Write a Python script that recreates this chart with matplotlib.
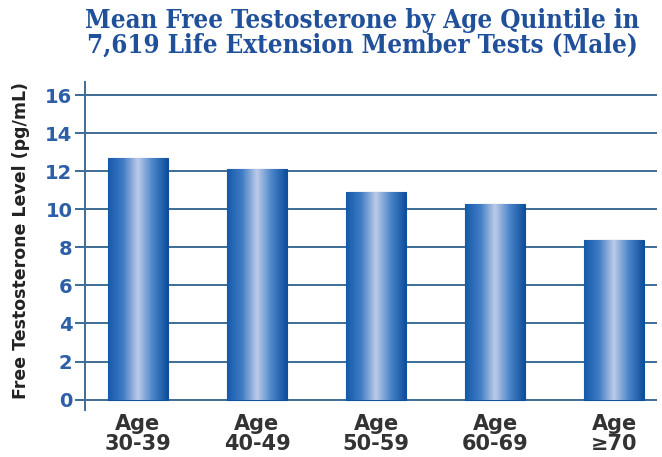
import matplotlib.pyplot as plt
import numpy as np
from matplotlib.colors import LinearSegmentedColormap

# data
groups = ["Age\n30-39", "Age\n40-49", "Age\n50-59", "Age\n60-69", "Age\n≥70"]
free_t = [12.7, 12.1, 10.9, 10.3, 8.4]
yticks = [0, 2, 4, 6, 8, 10, 12, 14, 16]

title_col = "#21509a"
tick_col = "#2c5fa5"
grid_col = "#3d6c94"

fig = plt.figure(figsize=(6.62, 4.57), dpi=100)
ax = fig.add_axes([0.1284, 0.1028, 0.864, 0.7178])

x = np.arange(len(groups))
bars = ax.bar(x, free_t, width=0.5, color="#1d62b3", edgecolor="#0f4f9c",
              linewidth=0.8, zorder=3)

# cylinder-like shading on each bar
cmap = LinearSegmentedColormap.from_list(
    "cyl", ["#1559ab", "#3f7cc4", "#bccbe8", "#4a84c8", "#0d4e9c"])
grad = np.linspace(0, 1, 256).reshape(1, -1)
for b in bars:
    x0, y0 = b.get_x(), b.get_y()
    im = ax.imshow(grad, cmap=cmap, aspect="auto", zorder=3.5,
                   extent=(x0, x0 + b.get_width(), y0, y0 + b.get_height()))
    im.set_clip_path(b)

ax.set_xlim(-0.445, 4.36)
ax.set_ylim(-0.55, 16.7)
ax.set_yticks(yticks)
ax.set_xticks(x)
ax.set_xticklabels(groups, fontsize=15, fontweight="bold", color="#333333",
                   family="DejaVu Sans", linespacing=1.0)
ax.set_yticklabels([str(t) for t in yticks], fontsize=14, fontweight="bold",
                   color=tick_col, family="DejaVu Sans")

for t in yticks:
    ax.axhline(t, color=grid_col, linewidth=1.4, zorder=1)

for s in ["top", "right", "bottom"]:
    ax.spines[s].set_visible(False)
ax.spines["left"].set_color(grid_col)
ax.spines["left"].set_linewidth(1.4)
ax.tick_params(axis="y", length=7, width=1.4, color=grid_col, pad=2)
ax.tick_params(axis="x", length=0, pad=3)

ax.set_ylabel("Free Testosterone Level (pg/mL)", fontsize=12.5, fontweight="bold",
              color="#222222", family="DejaVu Sans")
ax.yaxis.set_label_coords(-0.097, 0.517)

fig.text(0.547, 0.983, "Mean Free Testosterone by Age Quintile in\n"
         "7,619 Life Extension Member Tests (Male)",
         ha="center", va="top", fontsize=18.5, fontweight="bold",
         color=title_col, family="DejaVu Serif", fontstretch="condensed",
         linespacing=1.0)

fig.savefig("out.png", dpi=100)
